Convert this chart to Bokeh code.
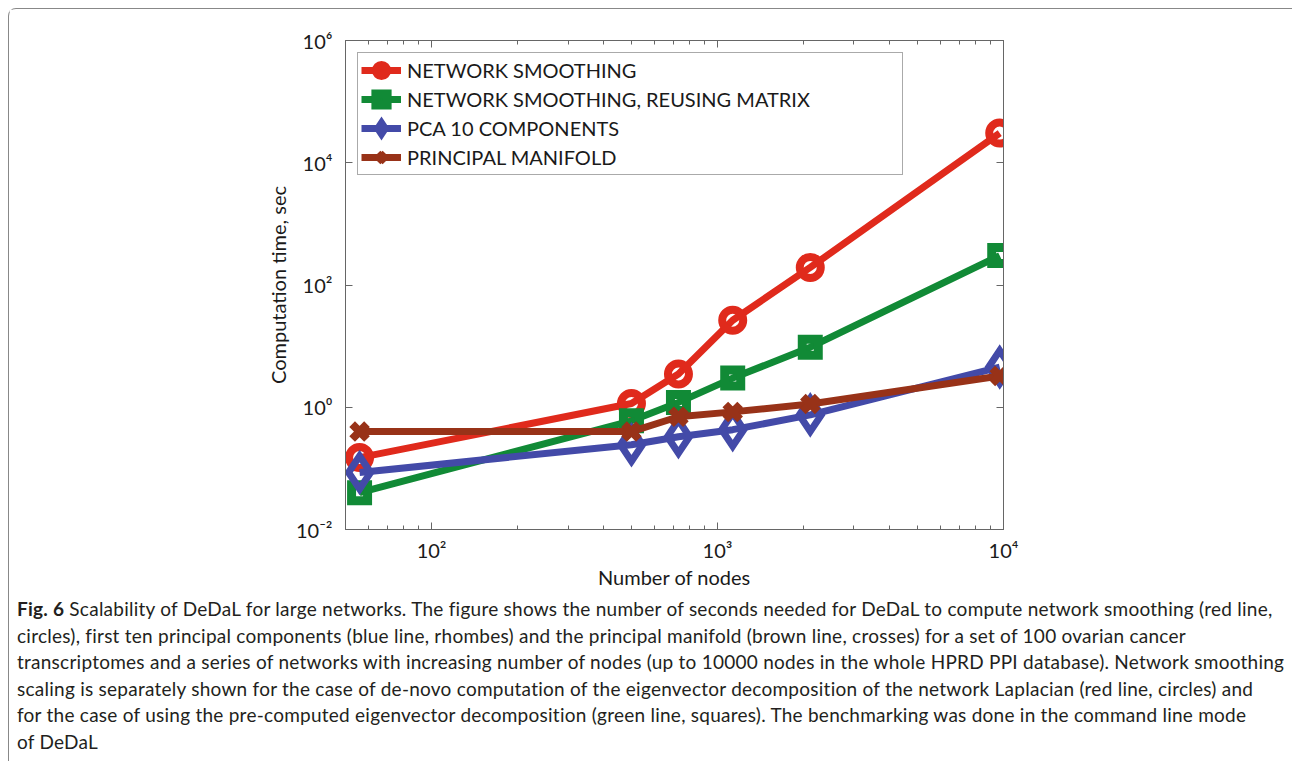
import math
from bokeh.plotting import figure
from bokeh.models import LogAxis, FixedTicker, Legend, LegendItem, Div, Range1d
from bokeh.layouts import column
from bokeh.embed import file_html
from bokeh.resources import INLINE

# ---- data ----
nodes = [56, 500, 730, 1130, 2110, 9700]
smoothing = [0.15, 1.15, 3.5, 26.5, 194, 30600]
smoothing_reuse = [0.040, 0.60, 1.2, 3.0, 9.6, 303]
pca10 = [0.0855, 0.244, 0.33, 0.43, 0.75, 4.55]
manifold = [0.40, 0.40, 0.70, 0.84, 1.13, 3.25]

series_names = ["NETWORK SMOOTHING", "NETWORK SMOOTHING, REUSING MATRIX",
                "PCA 10 COMPONENTS", "PRINCIPAL MANIFOLD"]

x_major = [100, 1000, 10000]
x_labels = ["10\u00b2", "10\u00b3", "10\u2074"]
x_minor = [60, 70, 80, 90] + [k * 100 for k in range(2, 10)] + [k * 1000 for k in range(2, 10)]
y_major = [1e-2, 1e0, 1e2, 1e4, 1e6]
y_labels = ["10\u207b\u00b2", "10\u2070", "10\u00b2", "10\u2074", "10\u2076"]

x_title = "Number of nodes"
y_title = "Computation time, sec"

caption_lines = [
    "<b>Fig. 6</b> Scalability of DeDaL for large networks. The figure shows the number of seconds needed for DeDaL to compute network smoothing (red line,",
    "circles), first ten principal components (blue line, rhombes) and the principal manifold (brown line, crosses) for a set of 100 ovarian cancer",
    "transcriptomes and a series of networks with increasing number of nodes (up to 10000 nodes in the whole HPRD PPI database). Network smoothing",
    "scaling is separately shown for the case of de-novo computation of the eigenvector decomposition of the network Laplacian (red line, circles) and",
    "for the case of using the pre-computed eigenvector decomposition (green line, squares). The benchmarking was done in the command line mode",
    "of DeDaL",
]

FONT = "Lato"
TXT = "#1a1a1a"
AX = "#666666"

x_rng = Range1d(50, 10000)
y_rng = Range1d(1e-2, 1e6)

p = figure(width=1280, height=582, x_axis_type="log", y_axis_type="log",
           x_range=x_rng, y_range=y_rng, output_backend="svg", toolbar_location=None,
           min_border_left=336, min_border_right=286, min_border_top=31, min_border_bottom=60)
p.grid.visible = False
p.outline_line_color = AX
p.background_fill_color = "white"
p.border_fill_color = "white"


def style_axis(ax, ticks, minor, labels=None):
    ax.ticker = FixedTicker(ticks=ticks, minor_ticks=minor)
    ax.major_tick_in = 7
    ax.major_tick_out = 0
    ax.minor_tick_in = 4
    ax.minor_tick_out = 0
    ax.axis_line_color = AX
    ax.major_tick_line_color = AX
    ax.minor_tick_line_color = AX
    if labels is None:
        ax.major_label_text_font_size = "10px"
        ax.major_label_text_alpha = 0
        ax.major_label_standoff = 0
    else:
        ax.major_label_overrides = {t: s for t, s in zip(ticks, labels)}
        ax.major_label_text_font = FONT
        ax.major_label_text_font_size = "20px"
        ax.major_label_text_color = TXT
    ax.axis_label_text_font = FONT
    ax.axis_label_text_font_size = "20px"
    ax.axis_label_text_font_style = "normal"
    ax.axis_label_text_color = TXT


xa = p.xaxis[0]
style_axis(xa, x_major, x_minor, x_labels)
xa.major_label_standoff = 8
xa.axis_label = x_title
xa.axis_label_standoff = 0

ya = p.yaxis[0]
style_axis(ya, y_major, [], y_labels)
ya.major_label_standoff = 13
ya.axis_label = y_title
ya.axis_label_standoff = 3

top_ax = LogAxis()
style_axis(top_ax, x_major, x_minor)
p.add_layout(top_ax, "above")
right_ax = LogAxis()
style_axis(right_ax, y_major, [])
p.add_layout(right_ax, "right")

colors = ["#e02a1c", "#118a36", "#434aa8", "#983218"]
values = [smoothing, smoothing_reuse, pca10, manifold]
markers = ["circle", "square", "diamond", "x"]
msizes = [21, 16, 33, 21]
mlw = [8, 9, 7, 8]

items = []
for name, ys, c, m, s, lw in zip(series_names, values, colors, markers, msizes, mlw):
    lr = p.line(nodes, ys, line_color=c, line_width=7)
    sr = p.scatter(nodes, ys, marker=m, size=s, line_color=c, line_width=lw,
                   fill_color=None, line_join="miter")
    items.append(LegendItem(label=name, renderers=[lr, sr]))

legend = Legend(items=items, location="top_left", margin=12, padding=3, spacing=1,
                glyph_width=40, glyph_height=28, label_height=28, label_standoff=6,
                label_width=492, label_text_font_size="20px", label_text_font=FONT,
                label_text_color=TXT, border_line_color="#555555", border_line_width=1,
                background_fill_color="white", background_fill_alpha=1.0)
p.add_layout(legend)

cap_html = ('<div style="padding-top:0px; padding-left:3px; font-family:Lato; font-size:19px; '
            'letter-spacing:0.25px; line-height:26.6px; white-space:nowrap; color:#231f20;">'
            + "<br>".join(caption_lines) + "</div>")
cap = Div(text=cap_html, width=1280, height=162, styles={"overflow": "hidden"})

layout = column(p, cap, styles={"margin": "8px 0 0 8px",
                                "border-top": "1.5px solid #888888",
                                "border-left": "1.5px solid #888888",
                                "border-right": "1.5px solid #888888",
                                "border-radius": "8px 8px 0 0"})

open("out.html", "w").write(file_html(layout, INLINE))
